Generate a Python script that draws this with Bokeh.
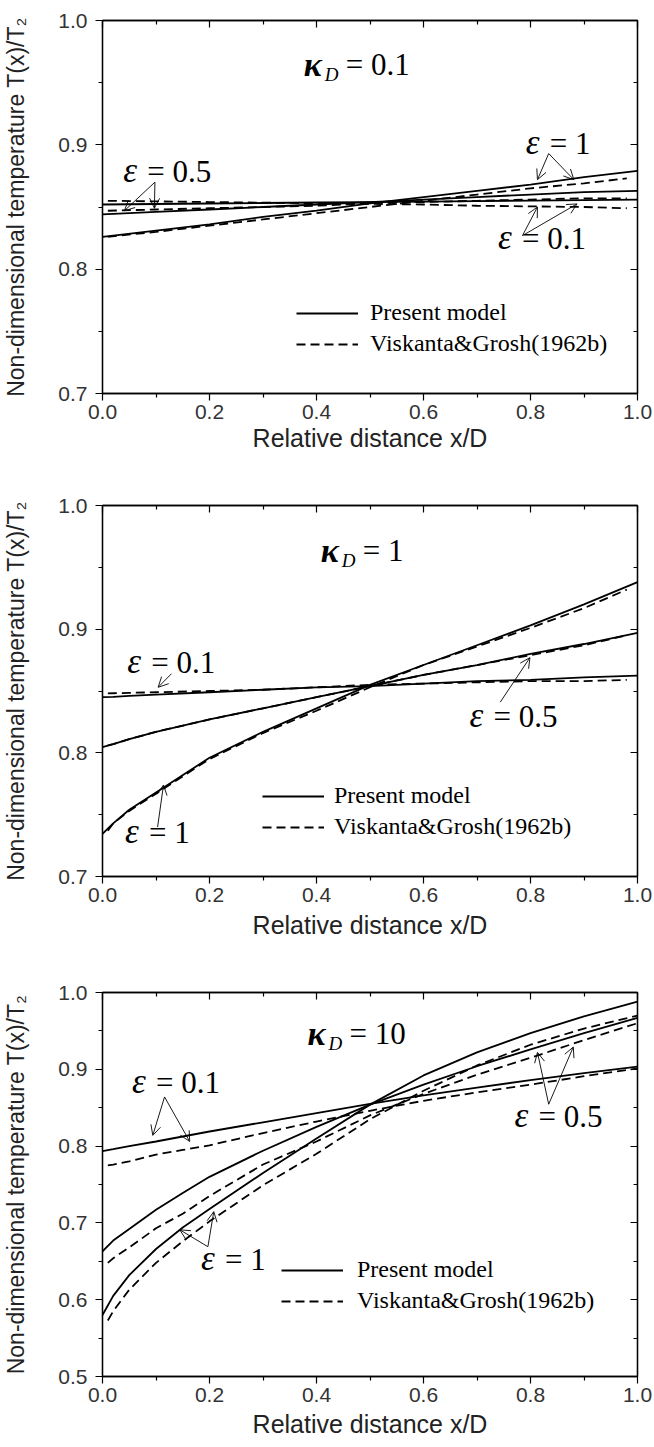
from bokeh.plotting import figure
from bokeh.models import (Range1d, LinearAxis, FixedTicker, NumeralTickFormatter,
                          Label, Arrow, OpenHead, ColumnDataSource, Legend, LegendItem)
from bokeh.layouts import column
from bokeh.embed import file_html
from bokeh.resources import INLINE

# ---------------- data ----------------
X_MAJOR = [0.0, 0.2, 0.4, 0.6, 0.8, 1.0]
X_MINOR = [0.1, 0.3, 0.5, 0.7, 0.9]
Y_MAJOR_A = [0.7, 0.8, 0.9, 1.0]
Y_MINOR_A = [0.75, 0.85, 0.95]
Y_MAJOR_B = [0.5, 0.6, 0.7, 0.8, 0.9, 1.0]
Y_MINOR_B = [0.55, 0.65, 0.75, 0.85, 0.95]

LEGEND_LABELS = ["Present model", "Viskanta&Grosh(1962b)"]
X_TITLE = "Relative distance x/D"
Y_TITLE = "Non-dimensional temperature T(x)/T\u2082"

# Panel 1: kappa_D = 0.1
P1_X = [0.0, 0.1, 0.2, 0.3, 0.4, 0.5, 0.6, 0.7, 0.8, 0.9, 1.0]
P1_XD = [0.01, 0.1, 0.2, 0.3, 0.4, 0.5, 0.6, 0.7, 0.8, 0.9, 0.98]
P1_SOLID_E01 = [0.852, 0.8524, 0.8528, 0.8532, 0.8536, 0.854, 0.8544, 0.8548, 0.8552, 0.8556, 0.856]
P1_SOLID_E05 = [0.844, 0.846, 0.848, 0.850, 0.852, 0.854, 0.856, 0.858, 0.860, 0.862, 0.863]
P1_SOLID_E1 = [0.826, 0.831, 0.836, 0.842, 0.847, 0.853, 0.858, 0.863, 0.868, 0.874, 0.879]
P1_DASH_E01 = [0.855, 0.8545, 0.854, 0.8535, 0.853, 0.8525, 0.852, 0.851, 0.8505, 0.850, 0.849]
P1_DASH_E05 = [0.847, 0.848, 0.849, 0.850, 0.851, 0.853, 0.854, 0.855, 0.856, 0.857, 0.857]
P1_DASH_E1 = [0.826, 0.830, 0.835, 0.840, 0.845, 0.850, 0.855, 0.860, 0.865, 0.869, 0.873]

# Panel 2: kappa_D = 1
P2_X = [0.0, 0.02, 0.05, 0.1, 0.2, 0.3, 0.4, 0.5, 0.6, 0.7, 0.8, 0.9, 1.0]
P2_XD = [0.01, 0.02, 0.05, 0.1, 0.2, 0.3, 0.4, 0.5, 0.6, 0.7, 0.8, 0.9, 0.98]
P2_SOLID_E01 = [0.845, 0.8453, 0.846, 0.847, 0.849, 0.851, 0.853, 0.854, 0.856, 0.858, 0.859, 0.861, 0.8625]
P2_SOLID_E05 = [0.8046, 0.807, 0.811, 0.817, 0.827, 0.836, 0.845, 0.854, 0.863, 0.871, 0.880, 0.888, 0.897]
P2_SOLID_E1 = [0.7345, 0.743, 0.754, 0.768, 0.796, 0.817, 0.836, 0.855, 0.871, 0.887, 0.903, 0.920, 0.938]
P2_DASH_E01 = [0.848, 0.8482, 0.8485, 0.849, 0.850, 0.851, 0.853, 0.855, 0.856, 0.857, 0.858, 0.858, 0.859]
P2_DASH_E05 = [0.806, 0.807, 0.811, 0.817, 0.827, 0.836, 0.845, 0.854, 0.863, 0.871, 0.879, 0.887, 0.895]
P2_DASH_E1 = [0.737, 0.743, 0.753, 0.767, 0.795, 0.816, 0.834, 0.853, 0.871, 0.886, 0.901, 0.917, 0.932]

# Panel 3: kappa_D = 10
P3_X = [0.0, 0.02, 0.05, 0.1, 0.15, 0.2, 0.3, 0.4, 0.5, 0.6, 0.7, 0.8, 0.9, 1.0]
P3_XD = [0.01, 0.02, 0.05, 0.1, 0.15, 0.2, 0.3, 0.4, 0.5, 0.6, 0.7, 0.8, 0.9, 1.0]
P3_SOLID_E01 = [0.7935, 0.796, 0.800, 0.806, 0.8125, 0.819, 0.831, 0.843, 0.855, 0.866, 0.876, 0.886, 0.895, 0.9035]
P3_SOLID_E05 = [0.663, 0.677, 0.692, 0.717, 0.739, 0.760, 0.794, 0.825, 0.854, 0.880, 0.904, 0.926, 0.947, 0.967]
P3_SOLID_E1 = [0.580, 0.605, 0.632, 0.666, 0.694, 0.718, 0.765, 0.810, 0.854, 0.892, 0.922, 0.947, 0.969, 0.988]
P3_DASH_E01 = [0.775, 0.776, 0.780, 0.789, 0.795, 0.801, 0.817, 0.832, 0.846, 0.859, 0.870, 0.880, 0.891, 0.901]
P3_DASH_E05 = [0.648, 0.654, 0.668, 0.693, 0.712, 0.735, 0.776, 0.806, 0.840, 0.868, 0.893, 0.915, 0.938, 0.960]
P3_DASH_E1 = [0.573, 0.585, 0.613, 0.648, 0.676, 0.702, 0.749, 0.790, 0.835, 0.872, 0.905, 0.932, 0.953, 0.970]

# annotation texts
KAPPA_VALUES = ["= 0.1", "= 1", "= 10"]
P1_EPS = ["= 0.5", "= 1", "= 0.1"]
P2_EPS = ["= 0.1", "= 0.5", "= 1"]
P3_EPS = ["= 0.1", "= 1", "= 0.5"]

# ---------------- layout / style constants ----------------
SERIF = "Liberation Serif"
SANS = "Liberation Sans"
FRAME_LEFT = 95
FRAME_RIGHT = 17
WIDTH = 654


def add_label(p, x, y, text, size, style="normal", xo=0, yo=0, font=SERIF):
    p.add_layout(Label(x=x, y=y, text=text, x_offset=xo, y_offset=yo,
                       text_font=font, text_font_size=size, text_font_style=style,
                       text_align="left", text_baseline="middle", text_color="black"))


def add_eps(p, x, y, rest):
    add_label(p, x, y, "\u03b5", "35px", "italic", xo=-1, yo=1)
    add_label(p, x, y, rest, "31px", "normal", xo=23)


def add_kappa(p, x, y, rest):
    add_label(p, x, y, "\u03ba", "34px", "bold italic")
    add_label(p, x, y, "D", "19px", "italic", xo=21, yo=-10)
    add_label(p, x, y, rest, "31px", "normal", xo=42)


def add_arrows(p, x0, y0, x1, y1):
    src = ColumnDataSource(dict(x0=x0, y0=y0, x1=x1, y1=y1))
    p.add_layout(Arrow(source=src, x_start="x0", y_start="y0", x_end="x1", y_end="y1",
                       line_width=0.9, line_color="black",
                       end=OpenHead(size=10, line_width=0.9, line_color="black")))


def make_panel(height, top, bottom, ylo, yhi, ymaj, ymin, xs, solids, xd, dashes,
               legend_loc, legend_standoff, title_standoff):
    p = figure(width=WIDTH, height=height, output_backend="svg", toolbar_location=None,
               x_range=Range1d(0, 1), y_range=Range1d(ylo, yhi),
               min_border_left=FRAME_LEFT, min_border_right=FRAME_RIGHT,
               min_border_top=top, min_border_bottom=bottom,
               x_axis_label=X_TITLE, y_axis_label=Y_TITLE)
    p.grid.visible = False
    p.outline_line_color = "black"
    p.outline_line_width = 1.3
    p.background_fill_color = "white"
    p.border_fill_color = "white"

    xt = FixedTicker(ticks=X_MAJOR, minor_ticks=X_MINOR)
    yt = FixedTicker(ticks=ymaj, minor_ticks=ymin)
    fmt = NumeralTickFormatter(format="0.0")

    for ax, tk in ((p.xaxis[0], xt), (p.yaxis[0], yt)):
        ax.ticker = tk
        ax.formatter = fmt
        ax.axis_line_color = "black"
        ax.axis_line_width = 1.3
        ax.major_tick_line_color = "black"
        ax.minor_tick_line_color = "black"
        ax.major_tick_line_width = 1.2
        ax.minor_tick_line_width = 1.2
        ax.major_tick_out = 7
        ax.major_tick_in = 0
        ax.minor_tick_out = 4
        ax.minor_tick_in = 0
        ax.major_label_text_font = SANS
        ax.major_label_text_font_size = "21px"
        ax.major_label_text_color = "#333333"
        ax.axis_label_text_font = SANS
        ax.axis_label_text_font_style = "normal"
        ax.axis_label_text_color = "#222222"
    p.xaxis[0].axis_label_text_font_size = "25px"
    p.yaxis[0].axis_label_text_font_size = "23px"
    p.xaxis[0].major_label_standoff = 4
    p.xaxis[0].axis_label_standoff = title_standoff
    p.yaxis[0].major_label_standoff = 8
    p.yaxis[0].axis_label_standoff = 26

    for place, tk in (("above", xt), ("right", yt)):
        ax = LinearAxis(ticker=tk, formatter=fmt,
                        major_label_text_font_size="1px", major_label_text_color=None,
                        major_tick_in=7, major_tick_out=0, minor_tick_in=4, minor_tick_out=0,
                        axis_line_color="black", axis_line_width=1.3,
                        major_tick_line_color="black", minor_tick_line_color="black",
                        major_tick_line_width=1.2, minor_tick_line_width=1.2,
                        major_label_standoff=0)
        p.add_layout(ax, place)

    solid_renderers = [p.line(xs, ys, line_color="black", line_width=1.8) for ys in solids]
    dash_renderers = [p.line(xd, ys, line_color="black", line_width=1.8, line_dash="9 5")
                      for ys in dashes]

    leg = Legend(items=[LegendItem(label=LEGEND_LABELS[0], renderers=[solid_renderers[0]]),
                        LegendItem(label=LEGEND_LABELS[1], renderers=[dash_renderers[0]])],
                 location=legend_loc, orientation="vertical",
                 glyph_width=62, glyph_height=24, label_height=24,
                 label_standoff=legend_standoff, spacing=4, padding=0, margin=0,
                 border_line_color=None, background_fill_alpha=0,
                 label_text_font=SERIF, label_text_font_size="24px", label_text_color="black")
    p.add_layout(leg)
    return p


# ---------------- panel 1 ----------------
p1 = make_panel(480, 20, 87, 0.7, 1.0, Y_MAJOR_A, Y_MINOR_A,
                P1_X, [P1_SOLID_E01, P1_SOLID_E05, P1_SOLID_E1],
                P1_XD, [P1_DASH_E01, P1_DASH_E05, P1_DASH_E1],
                (194, 36), 12, 2)
add_kappa(p1, 0.376, 0.9646, KAPPA_VALUES[0])
add_eps(p1, 0.0406, 0.8786, P1_EPS[0])
add_eps(p1, 0.793, 0.901, P1_EPS[1])
add_eps(p1, 0.741, 0.8247, P1_EPS[2])
add_arrows(p1, [0.098, 0.098, 0.834, 0.834, 0.785, 0.785],
           [0.870, 0.870, 0.893, 0.893, 0.827, 0.827],
           [0.041, 0.097, 0.813, 0.881, 0.813, 0.887],
           [0.847, 0.849, 0.872, 0.872, 0.850, 0.8525])

# ---------------- panel 2 ----------------
p2 = make_panel(480, 25, 84, 0.7, 1.0, Y_MAJOR_A, Y_MINOR_A,
                P2_X, [P2_SOLID_E01, P2_SOLID_E05, P2_SOLID_E1],
                P2_XD, [P2_DASH_E01, P2_DASH_E05, P2_DASH_E1],
                (160, 36), 10, 6)
add_kappa(p2, 0.408, 0.9636, KAPPA_VALUES[1])
add_eps(p2, 0.048, 0.873, P2_EPS[0])
add_eps(p2, 0.688, 0.829, P2_EPS[1])
add_eps(p2, 0.044, 0.7358, P2_EPS[2])
add_arrows(p2, [0.129, 0.7435, 0.103],
           [0.864, 0.841, 0.740],
           [0.104, 0.799, 0.114],
           [0.853, 0.877, 0.774])

# ---------------- panel 3 ----------------
p3 = make_panel(486, 32, 70, 0.5, 1.0, Y_MAJOR_B, Y_MINOR_B,
                P3_X, [P3_SOLID_E01, P3_SOLID_E05, P3_SOLID_E1],
                P3_XD, [P3_DASH_E01, P3_DASH_E05, P3_DASH_E1],
                (179, 62), 14, 5)
add_kappa(p3, 0.383, 0.946, KAPPA_VALUES[2])
add_eps(p3, 0.057, 0.8825, P3_EPS[0])
add_eps(p3, 0.186, 0.652, P3_EPS[1])
add_eps(p3, 0.772, 0.839, P3_EPS[2])
add_arrows(p3, [0.116, 0.116, 0.197, 0.197, 0.834, 0.834],
           [0.864, 0.864, 0.669, 0.669, 0.8545, 0.8545],
           [0.094, 0.163, 0.1445, 0.208, 0.813, 0.880],
           [0.814, 0.806, 0.691, 0.7147, 0.922, 0.929])

layout = column(p1, p2, p3, spacing=0)
open("out.html", "w").write(file_html(layout, INLINE))
